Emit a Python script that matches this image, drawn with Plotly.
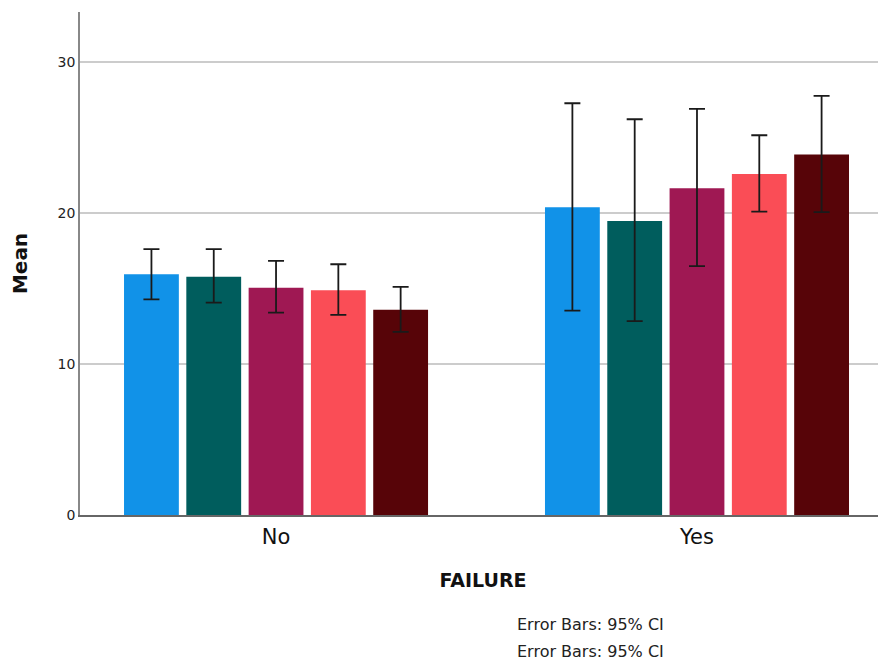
import plotly.graph_objects as go

categories = ["No", "Yes"]
series_names = ["Group 1", "Group 2", "Group 3", "Group 4", "Group 5"]
means = [
    [15.94, 20.38],
    [15.78, 19.47],
    [15.05, 21.63],
    [14.88, 22.58],
    [13.58, 23.86],
]
ci_upper = [
    [17.60, 27.26],
    [17.60, 26.20],
    [16.82, 26.89],
    [16.60, 25.14],
    [15.10, 27.75],
]
ci_lower = [
    [14.28, 13.53],
    [14.06, 12.83],
    [13.40, 16.47],
    [13.25, 20.09],
    [12.12, 20.05],
]
colors = ["#1192e8", "#005d5d", "#9f1853", "#fa4d56", "#570408"]

fig = go.Figure()
for name, m, hi, lo, c in zip(series_names, means, ci_upper, ci_lower, colors):
    fig.add_trace(go.Bar(
        x=categories, y=m, name=name,
        marker=dict(color=c, line=dict(width=0)),
        error_y=dict(
            type="data", symmetric=False,
            array=[h - v for h, v in zip(hi, m)],
            arrayminus=[v - l for l, v in zip(lo, m)],
            color="#1a1a1a", thickness=1.8, width=8,
        ),
    ))

# page has an 8px body margin; figure sized so that no scrollbar appears
fig.update_layout(
    width=878, height=653,
    margin=dict(l=72, r=0, t=4, b=146),
    paper_bgcolor="white", plot_bgcolor="white",
    barmode="group", bargap=0.26, bargroupgap=0.12,
    showlegend=False,
    font=dict(family="DejaVu Sans", color="#222222"),
    xaxis=dict(
        range=[-0.4657, 1.449],
        showline=True, linecolor="#666666", linewidth=1.5,
        ticks="", ticklabelstandoff=2, tickfont=dict(size=21, color="#111111"),
        title=dict(text="<b>FAILURE</b>", font=dict(size=19, color="#111111"), standoff=26),
        showgrid=False,
    ),
    yaxis=dict(
        range=[0, 33.3], tickvals=[0, 10, 20, 30],
        showline=True, linecolor="#888888", linewidth=1.5,
        showgrid=True, gridcolor="#cccccc", gridwidth=1.5,
        zeroline=False,
        ticks="", tickfont=dict(size=14, color="#222222"),
        title=dict(text="<b>Mean</b>", font=dict(size=20, color="#111111"), standoff=30),
    ),
)

for yy in [624, 651]:
    fig.add_annotation(
        text="Error Bars: 95% CI", xref="paper", yref="paper",
        x=(515 - 80) / 806, y=(515 - yy) / 503,
        xanchor="left", yanchor="middle", showarrow=False,
        font=dict(size=16, color="#222222"),
    )

fig.write_html("out.html")
